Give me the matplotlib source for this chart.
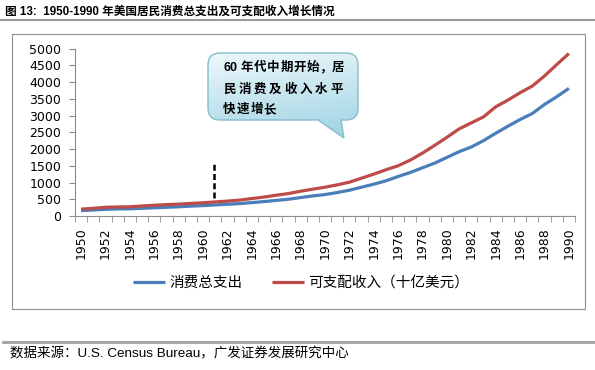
import matplotlib
matplotlib.use('Agg')
import matplotlib.pyplot as plt
import numpy as np
from matplotlib.path import Path
from matplotlib.patches import PathPatch, Rectangle
from matplotlib.lines import Line2D
from matplotlib.colors import to_rgb

# ---------------- data ----------------
years = list(range(1950, 1991))
consumption = [160, 180, 200, 210, 215, 230, 245, 260, 275, 295,
               310, 330, 350, 370, 400, 430, 465, 500, 550, 600,
               640, 700, 770, 860, 950, 1050, 1180, 1300, 1440, 1580,
               1750, 1920, 2060, 2250, 2470, 2680, 2880, 3060, 3330, 3560,
               3810]
income = [205, 230, 260, 270, 275, 300, 320, 340, 355, 375,
          395, 420, 445, 475, 520, 565, 620, 670, 740, 800,
          860, 930, 1010, 1130, 1250, 1380, 1500, 1670, 1880, 2110,
          2350, 2600, 2780, 2960, 3260, 3460, 3680, 3880, 4180, 4520,
          4850]
series_names = ['消费总支出', '可支配收入（十亿美元）']
marker_year = 1960.9
marker_range = [550, 1580]
callout_lines = ['60 年代中期开始，居', '民消费及收入水平', '快速增长']
title = '图 13:  1950-1990 年美国居民消费总支出及可支配收入增长情况'
source = '数据来源：U.S. Census Bureau，广发证券发展研究中心'
y_ticks = list(range(0, 5001, 500))

BLUE = '#4a7ebb'
RED = '#be4b48'
GRAY = '#8c8c8c'
CJK = ['Liberation Sans', 'Noto Sans CJK SC']

W, H = 595, 370
fig = plt.figure(figsize=(W / 100, H / 100), dpi=100)

# ---------------- main axes ----------------
ax = fig.add_axes([75 / W, 1 - 216 / H, 500 / W, 167.5 / H])
x = np.arange(len(years))
ax.plot(x, consumption, color=BLUE, lw=2.3, solid_capstyle='butt', label=series_names[0])
ax.plot(x, income, color=RED, lw=2.3, solid_capstyle='butt', label=series_names[1])
mx = years.index(int(marker_year)) + (marker_year - int(marker_year))
ax.plot([mx, mx], marker_range, color='black', lw=1.8, dashes=(2.4, 1.3))

ax.set_xlim(-0.5, len(years) - 0.5)
ax.set_ylim(0, 5000)
ax.set_yticks(y_ticks)
ax.set_yticklabels([str(v) for v in y_ticks], fontsize=9, family='DejaVu Sans')
ax.set_xticks(x[::2])
ax.set_xticklabels([str(y) for y in years[::2]], rotation=90, fontsize=9,
                   family='DejaVu Sans')
ax.set_xticks(np.arange(-0.5, len(years), 1), minor=True)
ax.tick_params(axis='x', which='major', length=0, pad=8)
ax.tick_params(axis='x', which='minor', length=4, color=GRAY, direction='out')
ax.tick_params(axis='y', length=4, color=GRAY, direction='out', pad=6)
for s in ['top', 'right']:
    ax.spines[s].set_visible(False)
for s in ['left', 'bottom']:
    ax.spines[s].set_color(GRAY)
    ax.spines[s].set_linewidth(0.8)
ax.patch.set_alpha(0)

leg = fig.legend(loc='center', bbox_to_anchor=(301 / W, 1 - 283 / H), ncol=2,
                 frameon=False, prop={'family': CJK, 'size': 10.5},
                 handlelength=2.2, handletextpad=0.3, columnspacing=2.0)

# ---------------- overlay (pixel coordinates) ----------------
ov = fig.add_axes([0, 0, 1, 1], zorder=5)
ov.set_xlim(0, W)
ov.set_ylim(H, 0)
ov.axis('off')

ov.add_line(Line2D([0, W], [20, 20], color='#9a9a9a', lw=1.5))
ov.add_patch(Rectangle((12, 34), 573, 275, fill=False, edgecolor=GRAY, lw=0.8))
ov.add_line(Line2D([3, W], [342, 342], color='#a0a0a0', lw=2))

ov.text(5, 12, title, fontsize=8.4, family=CJK, va='center', ha='left',
        color='black', weight='bold')
ov.text(10, 354, source, fontsize=9.7, family=CJK, va='center', ha='left', color='black')

# callout with tail
x0, x1, y0, y1, r = 208, 358, 53, 120, 12
tail = [(341, y1), (344, 138), (318, y1)]
verts = [(x0 + r, y0), (x1 - r, y0), (x1, y0), (x1, y0 + r), (x1, y1 - r),
         (x1, y1), (x1 - r, y1), tail[0], tail[1], tail[2], (x0 + r, y1),
         (x0, y1), (x0, y1 - r), (x0, y0 + r), (x0, y0), (x0 + r, y0), (x0 + r, y0)]
codes = [Path.MOVETO, Path.LINETO, Path.CURVE3, Path.CURVE3, Path.LINETO,
         Path.CURVE3, Path.CURVE3, Path.LINETO, Path.LINETO, Path.LINETO, Path.LINETO,
         Path.CURVE3, Path.CURVE3, Path.LINETO, Path.CURVE3, Path.CURVE3, Path.CLOSEPOLY]
path = Path(verts, codes)
patch = PathPatch(path, facecolor='none', edgecolor='#86bccd', lw=1.0, zorder=3)
ov.add_patch(patch)

top_c = np.array(to_rgb('#eef8fb'))
bot_c = np.array(to_rgb('#9cd2e3'))
ny, nx = 100, 100
tt = np.linspace(0, 1, ny)[:, None]
ss = np.linspace(0, 1, nx)[None, :]
mix = np.clip(0.8 * tt + 0.2 * ss, 0, 1)[..., None]
img = top_c * (1 - mix) + bot_c * mix
im = ov.imshow(img, extent=(x0, x1, 139, y0), origin='upper', aspect='auto',
               zorder=2, interpolation='bilinear')
im.set_clip_path(patch)
ov.set_xlim(0, W)
ov.set_ylim(H, 0)

# letter-spaced callout text
line_y = [68, 90, 110]
def spaced(line, y, x_start, pitch):
    xp = x_start
    for ch in line:
        if ch == ' ':
            xp += 4
            continue
        ov.text(xp, y, ch, fontsize=9, family=CJK, weight='bold',
                va='center', ha='left', color='black', zorder=4)
        if ch.isdigit():
            xp += 7
        elif ch == '，':
            xp += 12.6
        else:
            xp += pitch

spaced(callout_lines[0], line_y[0], 223, 13.1)
spaced(callout_lines[1], line_y[1], 223, 15.3)
spaced(callout_lines[2], line_y[2], 223, 13.6)

fig.savefig('out.png', dpi=100)
